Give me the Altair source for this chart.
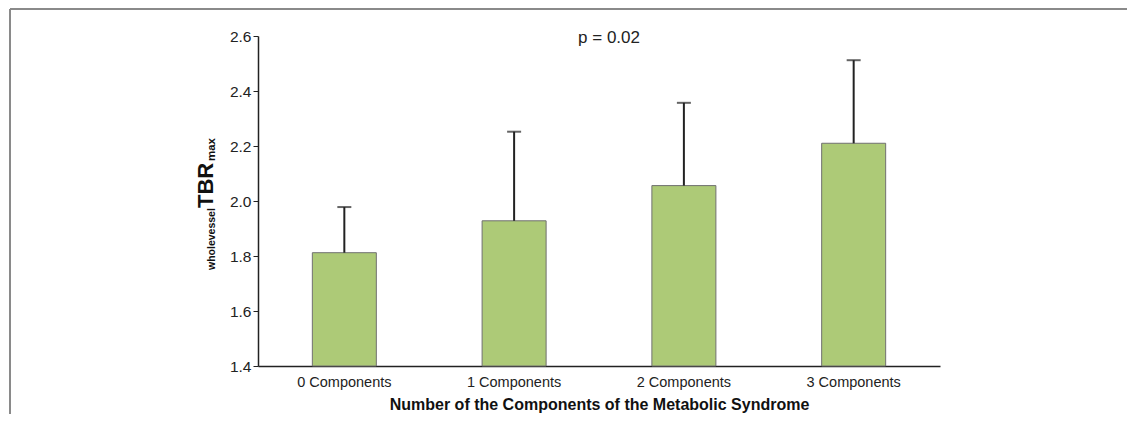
import altair as alt
import pandas as pd

categories = ["0 Components", "1 Components", "2 Components", "3 Components"]
means = [1.812, 1.928, 2.056, 2.210]
upper = [1.978, 2.252, 2.357, 2.512]
y_ticks = [1.4, 1.6, 1.8, 2.0, 2.2, 2.4, 2.6]

df = pd.DataFrame({"cat": categories, "mean": means, "upper": upper})

FONT = "Liberation Sans"
W, H = 682, 330

xenc = alt.X("cat:N", sort=categories,
             scale=alt.Scale(paddingInner=0.623, paddingOuter=0.32),
             axis=alt.Axis(title="Number of the Components of the Metabolic Syndrome",
                           labelAngle=0, ticks=False, labelPadding=9,
                           labelFontSize=14.5, labelColor="#222", labelFont=FONT,
                           titleFont=FONT, titleFontSize=16, titleFontWeight="bold",
                           titleColor="#111", titlePadding=8,
                           domainColor="#222", domainWidth=1.5))
yscale = alt.Scale(domain=[1.4, 2.6], nice=False, zero=False)

base = alt.Chart(df)

bars = base.mark_bar(color="#adca77", stroke="#707070", strokeWidth=1).encode(
    x=xenc,
    y=alt.Y("mean:Q", scale=yscale,
            axis=alt.Axis(title=None, values=y_ticks, format=".1f", grid=False,
                          tickSize=5, tickColor="#222", labelPadding=2,
                          labelFontSize=15.5, labelColor="#222", labelFont=FONT,
                          domainColor="#222", domainWidth=1.5)),
    y2=alt.datum(1.4),
)

err = base.mark_rule(color="#222", strokeWidth=2).encode(
    x=alt.X("cat:N", sort=categories), y=alt.Y("mean:Q", scale=yscale), y2="upper:Q")

caps = base.mark_tick(color="#222", thickness=2, size=14).encode(
    x=alt.X("cat:N", sort=categories), y=alt.Y("upper:Q", scale=yscale))

ptext = alt.Chart(pd.DataFrame({"t": ["p = 0.02"]})).mark_text(
    font=FONT, fontSize=17, color="#222", baseline="middle", align="center"
).encode(text="t:N", x=alt.value(351), y=alt.value(2))

ylab_df = pd.DataFrame({"t": ["wholevessel", "TBR", "max"],
                        "px": [-43, -45, -43], "py": [234, 172, 125],
                        "fs": [10.5, 22, 11.5]})
ylab = alt.Chart(ylab_df).mark_text(
    font=FONT, fontWeight="bold", color="#111", angle=270, align="left",
    baseline="alphabetic"
).encode(text="t:N",
         x=alt.X("px:Q", scale=None, axis=None),
         y=alt.Y("py:Q", scale=None, axis=None),
         size=alt.Size("fs:Q", scale=None, legend=None))

frame_top = alt.Chart(pd.DataFrame({"a": [0]})).mark_rule(color="#8a8a8a", strokeWidth=2).encode(
    x=alt.value(-248), x2=alt.value(W + 190), y=alt.value(-27))
frame_left = alt.Chart(pd.DataFrame({"a": [0]})).mark_rule(color="#8a8a8a", strokeWidth=2).encode(
    x=alt.value(-248), y=alt.value(-27), y2=alt.value(H + 60))

chart = alt.layer(bars, err, caps, ptext, ylab, frame_top, frame_left).properties(
    width=W, height=H,
    background="white",
    autosize=alt.AutoSizeParams(type="none"),
    padding={"left": 250, "top": 28, "right": 187, "bottom": 48},
).configure_view(strokeWidth=0, stroke=None).configure_axisY(
    labelFontSize=15.5, labelFont=FONT, labelColor="#222"
)

chart.save("out.html", embed_options={"renderer": "svg", "actions": False})
